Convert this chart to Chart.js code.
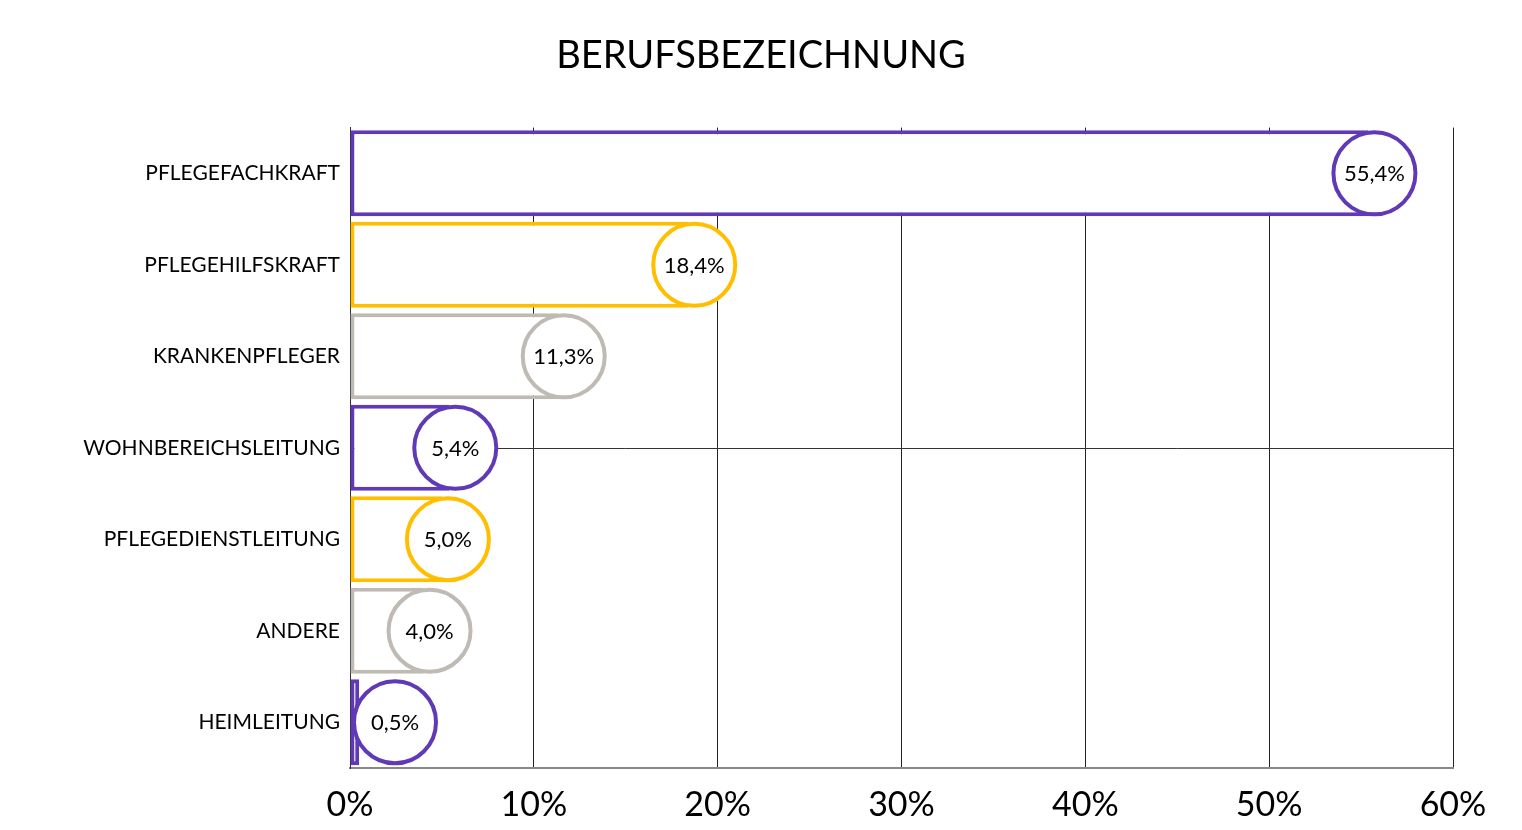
<!DOCTYPE html>
<html><head><meta charset="utf-8">
<script src="https://cdn.jsdelivr.net/npm/chart.js@4.4.0/dist/chart.umd.min.js"></script>
<style>html,body{margin:0;padding:0;background:#fff}#wrap{width:1522px;height:830px;position:relative}</style>
</head><body><div id="wrap"><canvas id="c"></canvas></div>
<script>
const categories = ['PFLEGEFACHKRAFT','PFLEGEHILFSKRAFT','KRANKENPFLEGER','WOHNBEREICHSLEITUNG','PFLEGEDIENSTLEITUNG','ANDERE','HEIMLEITUNG'];
const values = [55.4, 18.4, 11.3, 5.4, 5.0, 4.0, 0.5];
const valueLabels = ['55,4%','18,4%','11,3%','5,4%','5,0%','4,0%','0,5%'];
const tickValues = [0, 10, 20, 30, 40, 50, 60];
const titleText = 'BERUFSBEZEICHNUNG';

const PURPLE = '#603ab6', YELLOW = '#ffbf00', GREY = '#bfbab4';
const barColors = [PURPLE, YELLOW, GREY, PURPLE, YELLOW, GREY, PURPLE];
const FONT = 'Lato, "Open Sans", sans-serif';

const refLine = {
  id: 'refLine',
  beforeDatasetsDraw(chart) {
    const {ctx, chartArea, scales} = chart;
    const y = Math.round(scales.y.getPixelForValue(3)) + 0.5;
    ctx.save();
    ctx.strokeStyle = '#333';
    ctx.lineWidth = 1;
    ctx.beginPath();
    ctx.moveTo(chartArea.left, y);
    ctx.lineTo(chartArea.right, y);
    ctx.stroke();
    ctx.restore();
  }
};

const bubbles = {
  id: 'bubbles',
  afterDatasetsDraw(chart) {
    const {ctx, scales} = chart;
    const meta = chart.getDatasetMeta(0);
    ctx.save();
    meta.data.forEach((el, i) => {
      const h = el.height;
      const r = h / 2 - 2;
      const xv = scales.x.getPixelForValue(values[i]);
      const cx = Math.max(xv + 6, scales.x.left + h / 2 + 2);
      ctx.beginPath();
      ctx.arc(cx, el.y, r, 0, Math.PI * 2);
      ctx.fillStyle = '#fff';
      ctx.fill();
      ctx.lineWidth = 4;
      ctx.strokeStyle = barColors[i];
      ctx.stroke();
      ctx.fillStyle = '#000';
      ctx.font = '22px ' + FONT;
      ctx.textAlign = 'center';
      ctx.textBaseline = 'middle';
      ctx.fillText(valueLabels[i], cx, el.y + 1);
    });
    ctx.restore();
  }
};

new Chart(document.getElementById('c'), {
  type: 'bar',
  data: {
    labels: categories,
    datasets: [{
      data: values,
      backgroundColor: '#fff',
      borderColor: barColors,
      borderWidth: 4,
      borderSkipped: false,
      barPercentage: 0.94,
      categoryPercentage: 1
    }]
  },
  options: {
    indexAxis: 'y',
    responsive: true,
    maintainAspectRatio: false,
    animation: false,
    layout: {padding: {left: 69, right: 69, top: 0, bottom: 0}},
    plugins: {
      legend: {display: false},
      tooltip: {enabled: false},
      title: {
        display: true,
        text: titleText,
        color: '#000',
        font: {family: FONT, size: 38, weight: 'normal'},
        padding: {top: 33, bottom: 49}
      }
    },
    scales: {
      x: {
        min: 0, max: 60,
        afterBuildTicks(scale) { scale.ticks = tickValues.map(v => ({value: v})); },
        afterFit(scale) { scale.height = 62; },
        ticks: {
          color: '#000',
          font: {family: FONT, size: 34},
          padding: 17,
          callback: v => v + '%'
        },
        grid: {color: '#222', lineWidth: 1, drawTicks: false},
        border: {display: true, color: '#888', width: 2}
      },
      y: {
        afterFit(scale) { scale.width = 281; },
        ticks: {color: '#000', font: {family: FONT, size: 21}, padding: 10},
        grid: {display: false, drawTicks: false},
        border: {display: true, color: '#333', width: 1}
      }
    }
  },
  plugins: [refLine, bubbles]
});
</script>
</body></html>
